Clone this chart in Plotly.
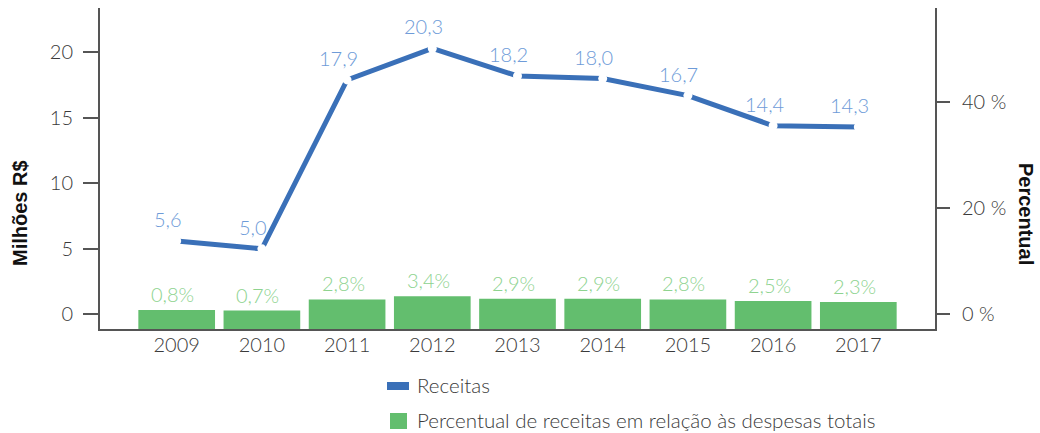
import plotly.graph_objects as go

years = ["2009", "2010", "2011", "2012", "2013", "2014", "2015", "2016", "2017"]
receitas = [5.6, 5.0, 17.9, 20.3, 18.2, 18.0, 16.7, 14.4, 14.3]
percentual = [0.8, 0.7, 2.8, 3.4, 2.9, 2.9, 2.8, 2.5, 2.3]
receitas_labels = ["5,6", "5,0", "17,9", "20,3", "18,2", "18,0", "16,7", "14,4", "14,3"]
percentual_labels = ["0,8%", "0,7%", "2,8%", "3,4%", "2,9%", "2,9%", "2,8%", "2,5%", "2,3%"]
left_ticks = [0, 5, 10, 15, 20]
right_ticks = [0, 20, 40]
right_tick_text = ["0 %", "20 %", "40 %"]
legend_names = ["Receitas", "Percentual de receitas em relação às despesas totais"]

LINE_C = "#3a70b8"
BAR_C = "#63be6e"
LINE_LBL = "#6e9bd8"
BAR_LBL = "#8ed38f"
AX_C = "#555555"
TXT_C = "#3a3a3a"
FONT = "Lato"
TITLE_FONT = "Liberation Sans"
FS = 20

Y1 = [-1.12, 23.39]
Y2 = [-2.77, 57.6]

fig = go.Figure()

fig.add_trace(go.Bar(
    x=years, y=[p - Y2[0] for p in percentual], base=Y2[0], yaxis="y2",
    marker=dict(color=BAR_C, line=dict(width=0)), width=0.9,
    name=legend_names[1], showlegend=False, hoverinfo="skip"))

fig.add_trace(go.Scatter(
    x=years, y=receitas, mode="lines", line=dict(color=LINE_C, width=5),
    name=legend_names[0], showlegend=False, cliponaxis=False))

fig.add_trace(go.Scatter(
    x=years, y=receitas, mode="markers",
    marker=dict(color="white", size=9, line=dict(width=0)),
    showlegend=False, hoverinfo="skip", cliponaxis=False))

ann = []
for i, (v, t) in enumerate(zip(receitas, receitas_labels)):
    ann.append(dict(x=i, y=v, xref="x", yref="y", text=t, showarrow=False,
                    yanchor="middle", yshift=22, xshift=-9,
                    font=dict(family=FONT, size=FS, color=LINE_LBL, weight=300)))
for i, (v, t) in enumerate(zip(percentual, percentual_labels)):
    ann.append(dict(x=i, y=v, xref="x", yref="y2", text=t, showarrow=False,
                    yanchor="middle", yshift=16, xshift=-4,
                    font=dict(family=FONT, size=FS, color=BAR_LBL, weight=300)))

# custom legend + titles placed in pixel terms
PW, PH = 835.0, 321.0
def px_x(px):
    return (px - 100) / PW
def px_y(py):
    return (329 - py) / PH

ann.append(dict(x=px_x(20), y=px_y(213), xref="paper", yref="paper", text="Milhões R$",
                textangle=-90, showarrow=False, xanchor="center", yanchor="middle",
                font=dict(family=TITLE_FONT, size=20, color="#111111", weight=700)))
ann.append(dict(x=px_x(1026), y=px_y(214), xref="paper", yref="paper", text="Percentual",
                textangle=90, showarrow=False, xanchor="center", yanchor="middle",
                font=dict(family=TITLE_FONT, size=20, color="#111111", weight=700)))

shapes = [
    dict(type="rect", xref="paper", yref="paper",
         x0=px_x(387), x1=px_x(409), y0=px_y(390), y1=px_y(382),
         fillcolor=LINE_C, line=dict(width=0)),
    dict(type="rect", xref="paper", yref="paper",
         x0=px_x(390), x1=px_x(407), y0=px_y(429), y1=px_y(413),
         fillcolor=BAR_C, line=dict(width=0)),
]
ann.append(dict(x=px_x(415), y=px_y(385), xref="paper", yref="paper", text=legend_names[0],
                showarrow=False, xanchor="left", yanchor="middle",
                font=dict(family=FONT, size=20.5, color=TXT_C, weight=300)))
ann.append(dict(x=px_x(415), y=px_y(420), xref="paper", yref="paper", text=legend_names[1],
                showarrow=False, xanchor="left", yanchor="middle",
                font=dict(family=FONT, size=20.5, color=TXT_C, weight=300)))

tickfont = dict(family=FONT, size=FS, color=TXT_C, weight=300)

fig.update_layout(
    width=1040, height=433,
    margin=dict(l=100, r=105, t=8, b=104),
    paper_bgcolor="white", plot_bgcolor="white",
    showlegend=False,
    bargap=0.1,
    xaxis=dict(type="category", range=[-0.9, 8.9], showgrid=False, zeroline=False,
               showline=True, linecolor=AX_C, linewidth=2, ticks="",
               tickfont=tickfont, fixedrange=True, ticklabelstandoff=-3),
    yaxis=dict(range=Y1, tickvals=left_ticks, showgrid=False, zeroline=False,
               showline=True, linecolor=AX_C, linewidth=2,
               ticks="outside", ticklen=15, tickcolor=AX_C, tickwidth=1.5,
               tickfont=tickfont, ticklabelstandoff=6),
    yaxis2=dict(range=Y2, overlaying="y", side="right", tickvals=right_ticks,
                ticktext=right_tick_text, showgrid=False, zeroline=False,
                showline=True, linecolor=AX_C, linewidth=2,
                ticks="outside", ticklen=13, tickcolor=AX_C, tickwidth=1.5,
                tickfont=tickfont, ticklabelstandoff=8),
    annotations=ann,
    shapes=shapes,
)

fig.write_html("out.html", config={"displayModeBar": False},
               post_script="document.body.style.margin='0';")
